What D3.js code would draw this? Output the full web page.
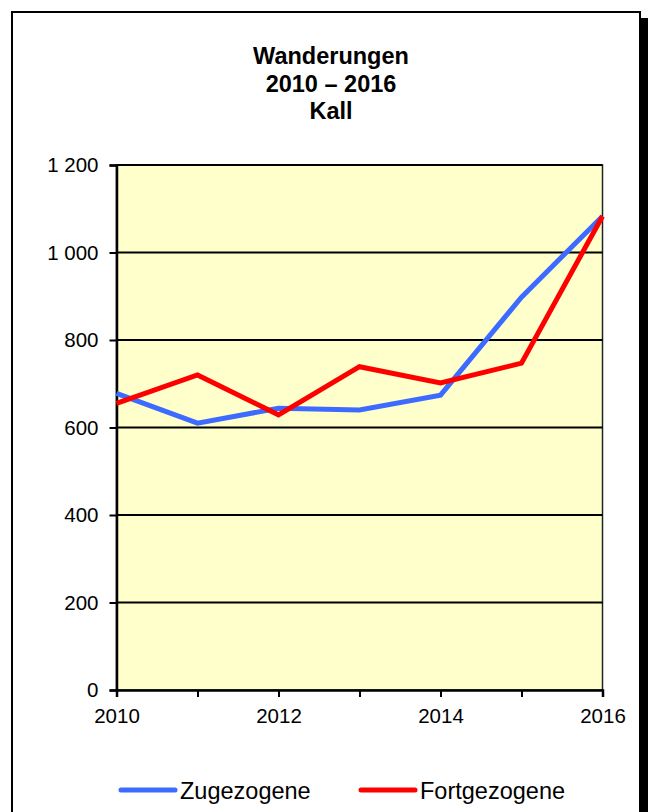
<!DOCTYPE html>
<html>
<head>
<meta charset="utf-8">
<script src="https://cdn.jsdelivr.net/npm/d3@7"></script>
<style>
html,body{margin:0;padding:0;background:#fff;}
svg{display:block;font-family:"Liberation Sans",Arial,sans-serif;}
</style>
</head>
<body>
<svg id="chart" width="648" height="812"></svg>
<script>
const years = [2010, 2011, 2012, 2013, 2014, 2015, 2016];
const zugezogene = [678, 610, 644, 640, 674, 898, 1083];
const fortgezogene = [655, 720, 629, 739, 702, 747, 1083];
const yTicks = [0, 200, 400, 600, 800, 1000, 1200];
const xTickLabels = [2010, 2012, 2014, 2016];
const titleLines = ["Wanderungen", "2010 – 2016", "Kall"];
const seriesNames = ["Zugezogene", "Fortgezogene"];
const seriesColors = ["#3D6BFF", "#FF0000"];

const svg = d3.select("#chart");

// outer frame with shadow
svg.append("rect").attr("x", 18).attr("y", 18).attr("width", 630).attr("height", 820).attr("fill", "#000");
svg.append("rect").attr("x", 12).attr("y", 12).attr("width", 628).attr("height", 820)
  .attr("fill", "#fff").attr("stroke", "#000").attr("stroke-width", 2);

// title
svg.append("text").attr("x", 331).attr("y", 64).attr("text-anchor", "middle")
  .attr("font-weight", "bold").attr("font-size", 23.5)
  .selectAll("tspan").data(titleLines).join("tspan")
  .attr("x", 331).attr("dy", (d, i) => i === 0 ? 0 : 27.5).text(d => d);

const x = d3.scaleLinear().domain([2010, 2016]).range([116.5, 602.5]);
const y = d3.scaleLinear().domain([0, 1200]).range([690, 165]);

// plot background
svg.append("rect").attr("x", x(2010)).attr("y", y(1200))
  .attr("width", x(2016) - x(2010)).attr("height", y(0) - y(1200))
  .attr("fill", "#FFFFCC").attr("stroke", "#222").attr("stroke-width", 1.5);

// gridlines
svg.append("g").selectAll("line").data(yTicks.filter(d => d > 0)).join("line")
  .attr("x1", x(2010)).attr("x2", x(2016))
  .attr("y1", d => y(d)).attr("y2", d => y(d))
  .attr("stroke", "#000").attr("stroke-width", 1.8);

// y axis
const yAxis = svg.append("g").attr("transform", `translate(${x(2010)},0)`)
  .call(d3.axisLeft(y).tickValues(yTicks).tickSize(7).tickPadding(11)
    .tickFormat(d => d3.format(",")(d).replace(/,/g, " ")));
yAxis.select(".domain").attr("stroke", "#000").attr("stroke-width", 2.5);
yAxis.selectAll(".tick line").attr("stroke", "#000").attr("stroke-width", 2);
yAxis.selectAll("text").attr("font-size", 20.5).attr("fill", "#000")
  .attr("font-family", "Liberation Sans, Arial, sans-serif");

// x axis
const xAxis = svg.append("g").attr("transform", `translate(0,${y(0)})`)
  .call(d3.axisBottom(x).tickValues(years).tickSize(7).tickPadding(11)
    .tickFormat(d => xTickLabels.includes(d) ? String(d) : ""));
xAxis.select(".domain").attr("stroke", "#000").attr("stroke-width", 2.5);
xAxis.selectAll(".tick line").attr("stroke", "#000").attr("stroke-width", 2);
xAxis.selectAll("text").attr("font-size", 20.5).attr("fill", "#000")
  .attr("font-family", "Liberation Sans, Arial, sans-serif");

// lines
const series = [zugezogene, fortgezogene];
const line = d3.line().x((d, i) => x(years[i])).y(d => y(d));
svg.append("g").selectAll("path").data(series).join("path")
  .attr("d", d => line(d))
  .attr("fill", "none")
  .attr("stroke", (d, i) => seriesColors[i])
  .attr("stroke-width", 5)
  .attr("stroke-linejoin", "miter");

// legend
const legendX = [121, 361];
const lg = svg.append("g").selectAll("g").data(seriesNames).join("g")
  .attr("transform", (d, i) => `translate(${legendX[i]},790)`);
lg.append("line").attr("x1", 0).attr("x2", 54).attr("y1", 0).attr("y2", 0)
  .attr("stroke", (d, i) => seriesColors[i]).attr("stroke-width", 5).attr("stroke-linecap", "round");
lg.append("text").attr("x", 59).attr("y", 8.5).attr("font-size", 23.5).text(d => d);
</script>
</body>
</html>
